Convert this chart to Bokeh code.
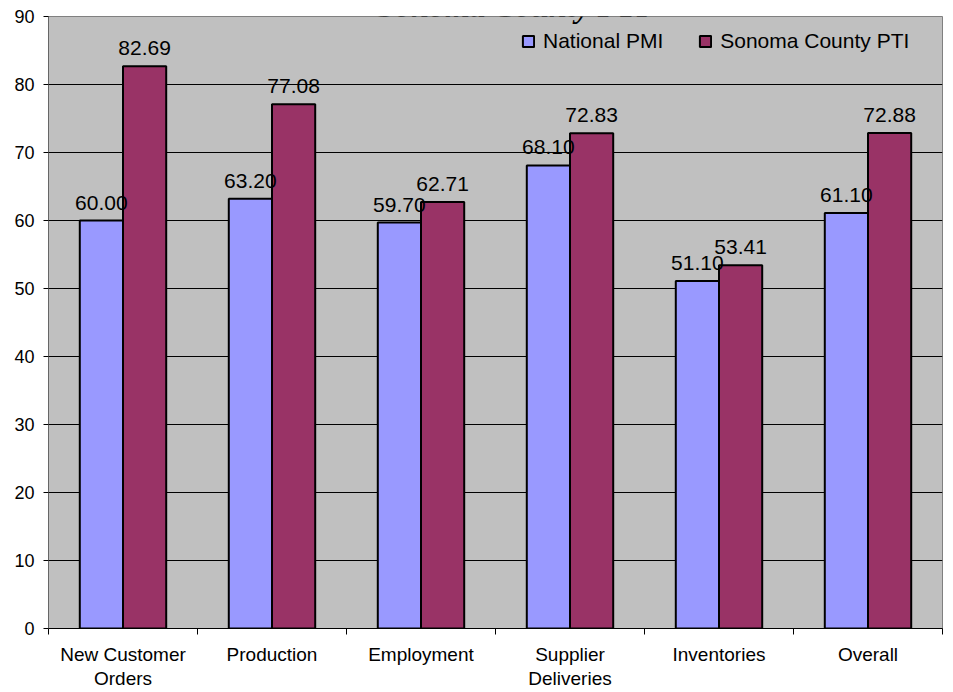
from bokeh.plotting import figure
from bokeh.models import Range1d, FixedTicker, Label, Legend, LegendItem
from bokeh.embed import file_html
from bokeh.resources import INLINE
from bokeh.core.properties import value
import numpy as np

categories = ["New Customer\nOrders", "Production", "Employment",
              "Supplier\nDeliveries", "Inventories", "Overall"]
national_pmi = [60.00, 63.20, 59.70, 68.10, 51.10, 61.10]
sonoma_pti = [82.69, 77.08, 62.71, 72.83, 53.41, 72.88]
y_ticks = [0, 10, 20, 30, 40, 50, 60, 70, 80, 90]
title_text = "Sonoma County PTI"

FONT = "Liberation Sans"
BLUE = "#9999FF"
RED = "#993366"
GRAY = "#C0C0C0"

n = len(categories)
centers = np.arange(n) + 0.5
bw = 0.29

p = figure(width=946, height=720, output_backend="svg", toolbar_location=None,
           x_range=Range1d(0, n), y_range=Range1d(0, 90),
           min_border_left=48, min_border_right=4, min_border_top=36, min_border_bottom=72)
p.styles = {"margin-top": "-20px", "margin-bottom": "-36px"}

p.background_fill_color = GRAY
p.border_fill_color = "white"
p.outline_line_color = "#808080"
p.outline_line_width = 1

r1 = p.vbar(x=centers - bw / 2, top=national_pmi, width=bw, fill_color=BLUE,
            line_color="black", line_width=2)
r2 = p.vbar(x=centers + bw / 2, top=sonoma_pti, width=bw, fill_color=RED,
            line_color="black", line_width=2)

p.text(x=centers - bw / 2, y=national_pmi, text=[f"{v:.2f}" for v in national_pmi],
       text_align="center", text_baseline="alphabetic", y_offset=-18,
       text_font=value(FONT), text_font_size="21px", text_color="black")
p.text(x=centers + bw / 2, y=sonoma_pti, text=[f"{v:.2f}" for v in sonoma_pti],
       text_align="center", text_baseline="alphabetic", y_offset=-18,
       text_font=value(FONT), text_font_size="21px", text_color="black")

# axes
p.yaxis.ticker = FixedTicker(ticks=y_ticks)
p.yaxis.major_label_text_font = FONT
p.yaxis.major_label_text_font_size = "18px"
p.yaxis.major_label_text_color = "black"
p.yaxis.major_tick_out = 5
p.yaxis.major_tick_in = 0
p.yaxis.major_label_standoff = 9
p.yaxis.minor_tick_line_color = None
p.yaxis.axis_line_color = "#666666"
p.yaxis.axis_line_width = 1
p.yaxis.major_tick_line_color = "black"

p.xaxis.ticker = FixedTicker(ticks=list(centers), minor_ticks=list(range(n + 1)))
p.xaxis.major_label_overrides = {float(c): lab for c, lab in zip(centers, categories)}
p.xaxis.major_label_text_font = FONT
p.xaxis.major_label_text_font_size = "19px"
p.xaxis.major_label_text_line_height = 1.15
p.xaxis.major_label_text_color = "black"
p.xaxis.major_tick_line_color = None
p.xaxis.minor_tick_out = 6
p.xaxis.minor_tick_in = 0
p.xaxis.minor_tick_line_color = "black"
p.xaxis.major_label_standoff = 9
p.xaxis.axis_line_color = "black"

p.xgrid.grid_line_color = None
p.ygrid.ticker = FixedTicker(ticks=y_ticks[1:-1])
p.ygrid.grid_line_color = "black"
p.ygrid.grid_line_width = 1

legend = Legend(items=[LegendItem(label="National PMI", renderers=[r1]),
                       LegendItem(label="Sonoma County PTI", renderers=[r2])],
                location=(473, 575), orientation="horizontal",
                background_fill_color=GRAY, background_fill_alpha=1,
                border_line_color=None, label_text_font=FONT,
                label_text_font_size="21px", label_text_color="black",
                glyph_width=14, glyph_height=14, label_standoff=8,
                spacing=35, padding=11, margin=0, label_height=25)
p.add_layout(legend, "center")

p.add_layout(Label(x=3.12, y=91.5, text=title_text, text_align="center",
                   text_baseline="alphabetic", text_font="Liberation Serif",
                   text_font_style="bold italic", text_font_size="32px",
                   text_color="black"))

open("out.html", "w").write(file_html(p, INLINE))
